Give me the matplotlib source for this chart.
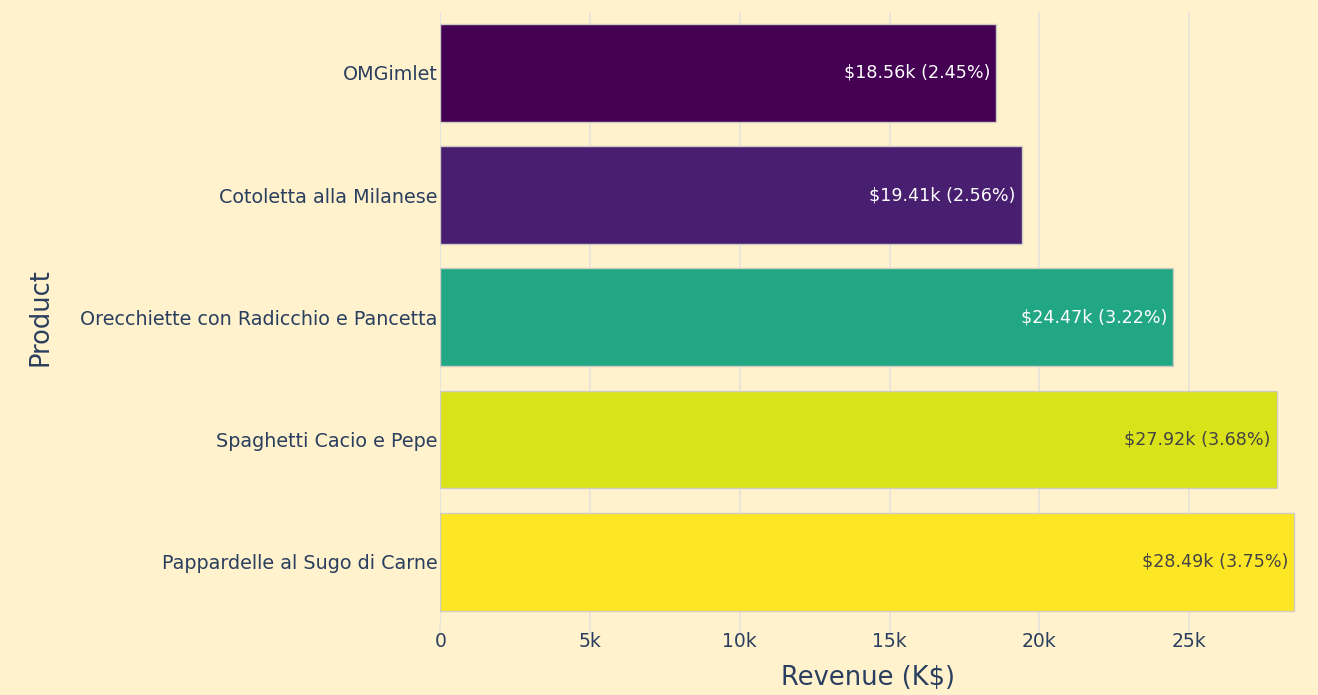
import matplotlib.pyplot as plt
import matplotlib as mpl

# data, top to bottom as in the chart
products = ['OMGimlet', 'Cotoletta alla Milanese',
            'Orecchiette con Radicchio e Pancetta',
            'Spaghetti Cacio e Pepe', 'Pappardelle al Sugo di Carne']
revenue = [18560, 19410, 24470, 27920, 28490]
share = [2.45, 2.56, 3.22, 3.68, 3.75]

BG = '#FFF2CC'
INK = '#2A3F5F'


def fmt_k(v):
    if v == 0:
        return '0'
    return '%dk' % (v / 1000)


def main():
    plt.rcParams['font.family'] = ['DejaVu Sans']
    fig = plt.figure(figsize=(13.18, 6.95), dpi=100, facecolor=BG)
    ax = fig.add_axes([0.334, 0.104, 0.649, 0.879], facecolor=BG)

    # color bars by value on viridis, like plotly's continuous scale
    norm = mpl.colors.Normalize(vmin=min(revenue), vmax=max(revenue))
    cmap = plt.get_cmap('viridis')
    colors = [cmap(norm(v)) for v in revenue]

    ys = list(range(len(products)))
    ax.barh(ys, revenue, height=0.8, color=colors,
            edgecolor='#D0CCC4', linewidth=1, zorder=3)

    for y, v, p, c in zip(ys, revenue, share, colors):
        lum = 0.299 * c[0] + 0.587 * c[1] + 0.114 * c[2]
        tc = 'white' if lum < 0.5 else '#444444'
        ax.text(v - 200, y, '$%.2fk (%.2f%%)' % (v / 1000, p),
                ha='right', va='center', fontsize=12.6, color=tc, zorder=4)

    ax.set_ylim(len(products) - 0.5, -0.5)
    ax.set_xlim(0, max(revenue) * 1.002)
    ax.set_yticks(ys)
    ax.set_yticklabels(products)
    ax.set_xticks([0, 5000, 10000, 15000, 20000, 25000])
    ax.set_xticklabels([fmt_k(t) for t in ax.get_xticks()])

    ax.grid(axis='x', color='#E6E3DC', linewidth=1.2, zorder=0)
    for s in ax.spines.values():
        s.set_visible(False)
    ax.axvline(0, color='#E6E3DC', linewidth=1.5, zorder=1)
    ax.tick_params(axis='x', colors='#E6E3DC', labelcolor=INK,
                   labelsize=13.5, length=7, width=1.2, pad=0)
    ax.tick_params(axis='y', length=0, labelcolor=INK, labelsize=13.8, pad=2)

    ax.set_xlabel('Revenue (K$)', fontsize=18.5, color=INK, labelpad=10)
    ax.set_ylabel('Product', fontsize=18.5, color=INK, labelpad=19)

    fig.savefig('out.png', dpi=100, facecolor=BG)


if __name__ == '__main__':
    main()
